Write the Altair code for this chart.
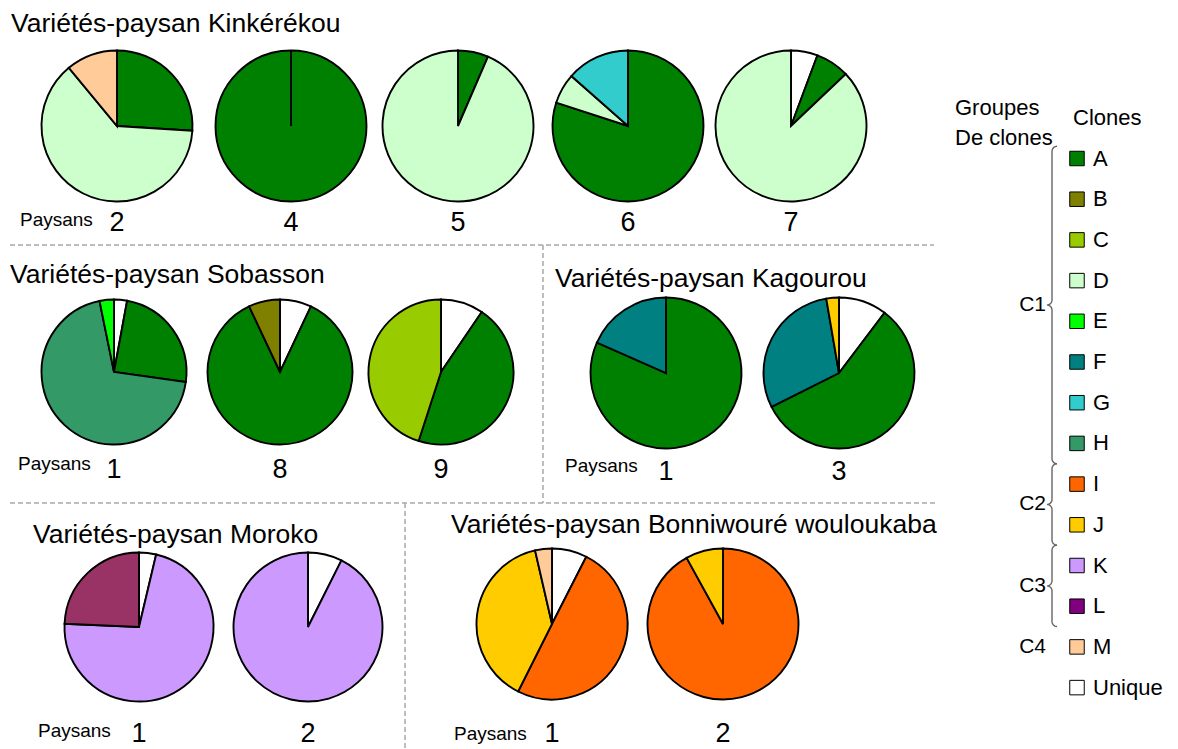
import altair as alt
import numpy as np
import pandas as pd

# ------------------------------------------------------------------ data
CLONES = ["A", "B", "C", "D", "E", "F", "G", "H", "I", "J", "K", "L", "M", "Unique"]
CLONE_COLORS = ["#008000", "#808000", "#99CC00", "#CCFFCC", "#00FF00", "#008080", "#33CCCC",
                "#339966", "#FF6600", "#FFCC00", "#CC99FF", "#993366", "#FFCC99", "#FFFFFF"]
LEGEND_SWATCH = ["#008000", "#808000", "#99CC00", "#CCFFCC", "#00FF00", "#008080", "#33CCCC",
                 "#339966", "#FF6600", "#FFCC00", "#CC99FF", "#800080", "#FFCC99", "#FFFFFF"]
CLONE_GROUPS = ["C1", "C1", "C1", "C1", "C1", "C1", "C1", "C1", "C2", "C2", "C3", "C3", "C4", ""]

# slices listed clockwise from 12 o'clock, % of the farmer's varieties
KINK_2_CLONES = ["A", "D", "M"];              KINK_2_PCT = [26, 63, 11]
KINK_4_CLONES = ["A"];                        KINK_4_PCT = [100]
KINK_5_CLONES = ["A", "D"];                   KINK_5_PCT = [6.5, 93.5]
KINK_6_CLONES = ["A", "D", "G"];              KINK_6_PCT = [80, 6.5, 13.5]
KINK_7_CLONES = ["Unique", "A", "D"];         KINK_7_PCT = [5.7, 7.2, 87.1]
SOBA_1_CLONES = ["Unique", "A", "H", "E"];    SOBA_1_PCT = [2.9, 24.3, 69.6, 3.2]
SOBA_8_CLONES = ["Unique", "A", "B"];         SOBA_8_PCT = [7, 86, 7]
SOBA_9_CLONES = ["Unique", "A", "C"];         SOBA_9_PCT = [9.5, 45.5, 45]
KAGO_1_CLONES = ["A", "F"];                   KAGO_1_PCT = [81.6, 18.4]
KAGO_3_CLONES = ["Unique", "A", "F", "J"];    KAGO_3_PCT = [10.3, 57.3, 29.7, 2.7]
MORO_1_CLONES = ["Unique", "K", "L"];         MORO_1_PCT = [3.7, 72, 24.3]
MORO_2_CLONES = ["Unique", "K"];              MORO_2_PCT = [7.4, 92.6]
BONN_1_CLONES = ["Unique", "I", "J", "M"];    BONN_1_PCT = [7.5, 49.9, 39, 3.6]
BONN_2_CLONES = ["I", "J"];                   BONN_2_PCT = [92, 8]

VILLAGES = ["Kinkérékou", "Sobasson", "Kagourou", "Moroko", "Bonniwouré wouloukaba"]
TITLE_PREFIX = "Variétés-paysan "
FARMER_WORD = "Paysans"

PIES = [
    ("Kinkérékou", "2", KINK_2_CLONES, KINK_2_PCT),
    ("Kinkérékou", "4", KINK_4_CLONES, KINK_4_PCT),
    ("Kinkérékou", "5", KINK_5_CLONES, KINK_5_PCT),
    ("Kinkérékou", "6", KINK_6_CLONES, KINK_6_PCT),
    ("Kinkérékou", "7", KINK_7_CLONES, KINK_7_PCT),
    ("Sobasson", "1", SOBA_1_CLONES, SOBA_1_PCT),
    ("Sobasson", "8", SOBA_8_CLONES, SOBA_8_PCT),
    ("Sobasson", "9", SOBA_9_CLONES, SOBA_9_PCT),
    ("Kagourou", "1", KAGO_1_CLONES, KAGO_1_PCT),
    ("Kagourou", "3", KAGO_3_CLONES, KAGO_3_PCT),
    ("Moroko", "1", MORO_1_CLONES, MORO_1_PCT),
    ("Moroko", "2", MORO_2_CLONES, MORO_2_PCT),
    ("Bonniwouré wouloukaba", "1", BONN_1_CLONES, BONN_1_PCT),
    ("Bonniwouré wouloukaba", "2", BONN_2_CLONES, BONN_2_PCT),
]

# ------------------------------------------------------------------ layout (page pixels)
PIE_X = {
    "Kinkérékou": [117, 291, 458, 628, 791],
    "Sobasson": [114, 280, 441],
    "Kagourou": [666, 839],
    "Moroko": [139, 308],
    "Bonniwouré wouloukaba": [552, 723],
}
PIE_Y = {"Kinkérékou": 126, "Sobasson": 372, "Kagourou": 373, "Moroko": 627, "Bonniwouré wouloukaba": 624}
PIE_R = {"Kinkérékou": 75.5, "Sobasson": 72.5, "Kagourou": 75.5, "Moroko": 74.5, "Bonniwouré wouloukaba": 75.5}
TITLE_POS = {"Kinkérékou": (11, 32), "Sobasson": (10, 283), "Kagourou": (555, 287),
             "Moroko": (33, 543), "Bonniwouré wouloukaba": (451, 533)}
FARMER_POS = {"Kinkérékou": (20, 226), "Sobasson": (18, 470), "Kagourou": (565, 472),
              "Moroko": (38, 737), "Bonniwouré wouloukaba": (454, 740)}
DIGIT_Y = {"Kinkérékou": 231, "Sobasson": 478, "Kagourou": 480, "Moroko": 742, "Bonniwouré wouloukaba": 742}
SEPARATORS = pd.DataFrame({
    "x": [10, 543, 10, 405], "y": [245, 245, 503, 503],
    "x2": [934, 543, 935, 405], "y2": [245, 503, 503, 749],
})
LEG_TOP, LEG_STEP = 158.5, 40.7
LEG_SWATCH_X, LEG_LABEL_X = 1077, 1093
BRACE_X = 1052

FONT = "Liberation Sans, Arial, sans-serif"

# ------------------------------------------------------------------ tables
rows, pie_rows = [], []
counters = {}
for village, farmer, clones, pct in PIES:
    k = counters.get(village, 0)
    counters[village] = k + 1
    cx, cy = PIE_X[village][k], PIE_Y[village]
    pid = f"{village}-{farmer}"
    for i, (c, p) in enumerate(zip(clones, pct)):
        rows.append(dict(pie=pid, village=village, order=i, clone=c, pct=p, cx=cx, cy=cy))
    pie_rows.append(dict(pie=pid, village=village, farmer=farmer, cx=cx, cy=cy,
                         ly=DIGIT_Y[village], top=cy - PIE_R[village], n=len(clones)))
slices = pd.DataFrame(rows)
pies = pd.DataFrame(pie_rows)

titles = pd.DataFrame([dict(text=TITLE_PREFIX + v, x=TITLE_POS[v][0], y=TITLE_POS[v][1]) for v in VILLAGES])
farmers = pd.DataFrame([dict(text=FARMER_WORD, x=FARMER_POS[v][0], y=FARMER_POS[v][1]) for v in VILLAGES])

legend = pd.DataFrame({
    "clone": CLONES, "swatch": LEGEND_SWATCH,
    "y": [LEG_TOP + i * LEG_STEP for i in range(len(CLONES))],
})

# braces spanning each multi-clone group
brace_pts, group_lbl = [], []
R_B = 5


def arc(g, cx, cy, a0, a1):
    for t in np.linspace(np.radians(a0), np.radians(a1), 8):
        brace_pts.append(dict(g=g, s=len(brace_pts), x=cx + R_B * np.cos(t), y=cy + R_B * np.sin(t)))


for g in ["C1", "C2", "C3", "C4"]:
    idx = [i for i, gg in enumerate(CLONE_GROUPS) if gg == g]
    if len(idx) > 1:
        y0 = LEG_TOP + (idx[0] - 0.5) * LEG_STEP if idx[0] > 0 else LEG_TOP - 0.3 * LEG_STEP
        y1 = LEG_TOP + (idx[-1] + 0.5) * LEG_STEP
        ym = (y0 + y1) / 2
        arc(g, BRACE_X + R_B, y0 + R_B, -90, -180)
        arc(g, BRACE_X - R_B, ym - R_B, 0, 90)
        arc(g, BRACE_X - R_B, ym + R_B, -90, 0)
        arc(g, BRACE_X + R_B, y1 - R_B, 180, 90)
    else:
        ym = LEG_TOP + idx[0] * LEG_STEP
    group_lbl.append(dict(text=g, x=BRACE_X - 6, y=ym))
braces = pd.DataFrame(brace_pts)
glabels = pd.DataFrame(group_lbl)
headers = pd.DataFrame({"text": ["Groupes", "De clones", "Clones"],
                        "x": [955, 955, 1073], "y": [115, 145, 125]})

# ------------------------------------------------------------------ chart
XS = alt.Scale(domain=[8, 1170], nice=False, zero=False)
YS = alt.Scale(domain=[8, 749], nice=False, zero=False, reverse=True)


def X(f):
    return alt.X(f, type="quantitative", scale=XS, axis=None)


def Y(f):
    return alt.Y(f, type="quantitative", scale=YS, axis=None)


layers = []
for v in VILLAGES:
    layers.append(
        alt.Chart(slices[slices.village == v])
        .transform_stack(stack="pct", groupby=["pie"], as_=["t0", "t1"], offset="normalize",
                         sort=[alt.SortField("order", order="ascending")])
        .mark_arc(outerRadius=PIE_R[v], stroke="black", strokeWidth=1.9)
        .encode(
            x=X("cx"), y=Y("cy"),
            theta=alt.Theta("t0:Q", scale=alt.Scale(domain=[0, 1], range=[0, 2 * np.pi])),
            theta2="t1:Q",
            color=alt.Color("clone:N", scale=alt.Scale(domain=CLONES, range=CLONE_COLORS), legend=None),
        )
    )

full_line = alt.Chart(pies[pies.n == 1]).mark_rule(color="black", strokeWidth=1.9).encode(
    x=X("cx"), y=Y("cy"), y2="top:Q")

seps = alt.Chart(SEPARATORS).mark_rule(color="#a8a8a8", strokeWidth=1.5, strokeDash=[5, 3]).encode(
    x=X("x"), y=Y("y"), x2="x2:Q", y2="y2:Q")

title_txt = alt.Chart(titles).mark_text(align="left", baseline="alphabetic", fontSize=26.5, font=FONT,
                                        color="black").encode(x=X("x"), y=Y("y"), text="text:N")
farmer_txt = alt.Chart(farmers).mark_text(align="left", baseline="alphabetic", fontSize=19, font=FONT,
                                          color="black").encode(x=X("x"), y=Y("y"), text="text:N")
digit_txt = alt.Chart(pies).mark_text(align="center", baseline="alphabetic", fontSize=27, font=FONT,
                                      color="black").encode(x=X("cx"), y=Y("ly"), text="farmer:N")

swatches = alt.Chart(legend).mark_square(size=210, filled=True, stroke="black", strokeWidth=1, opacity=1).encode(
    x=alt.X("sx:Q", scale=XS, axis=None), y=Y("y"), fill=alt.Fill("swatch:N", scale=None)
).transform_calculate(sx=str(LEG_SWATCH_X))
leg_txt = alt.Chart(legend).mark_text(align="left", baseline="middle", fontSize=22, font=FONT,
                                      color="black").encode(
    x=alt.X("lx:Q", scale=XS, axis=None), y=Y("y"), text="clone:N"
).transform_calculate(lx=str(LEG_LABEL_X))
brace_lines = alt.Chart(braces).mark_line(color="#666666", strokeWidth=1.4).encode(
    x=X("x"), y=Y("y"), detail="g:N", order="s:Q")
g_txt = alt.Chart(glabels).mark_text(align="right", baseline="middle", fontSize=21, font=FONT,
                                     color="black").encode(x=X("x"), y=Y("y"), text="text:N")
head_txt = alt.Chart(headers).mark_text(align="left", baseline="alphabetic", fontSize=22, font=FONT,
                                        color="black").encode(x=X("x"), y=Y("y"), text="text:N")

chart = alt.layer(
    seps, *layers, full_line, title_txt, farmer_txt, digit_txt,
    brace_lines, swatches, leg_txt, g_txt, head_txt
).properties(
    width=1162, height=741, padding=0, autosize=alt.AutoSizeParams(type="none"), background="white"
).configure_view(stroke=None)

chart.save("out.html", embed_options={"renderer": "svg", "actions": False})
